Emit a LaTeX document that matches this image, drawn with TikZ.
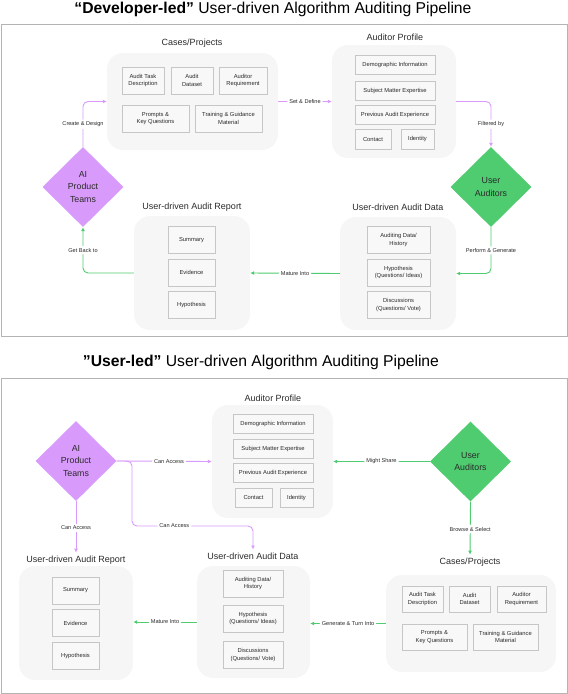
\documentclass[tikz,border=0pt]{standalone}
\usepackage{fontspec}
\setmainfont{Liberation Sans}
\usepackage{tikz}
\usetikzlibrary{shapes,arrows,positioning,calc,arrows.meta}

\definecolor{panelgray}{HTML}{F6F6F6}
\definecolor{boxgray}{HTML}{F8F8F8}
\definecolor{linegray}{HTML}{C6C6C6}
\definecolor{framegray}{HTML}{B4B4B4}
\definecolor{aipurple}{HTML}{D89BFB}
\definecolor{usergreen}{HTML}{4FCB70}
\definecolor{textdark}{HTML}{2A2A2A}

\begin{document}
\begin{tikzpicture}[x=1pt,y=-1pt,
    panel/.style={fill=panelgray, rounded corners=16pt, inner sep=0pt},
    item/.style={draw=linegray, fill=boxgray, line width=0.9pt, align=center, inner sep=0pt,
      font=\fontsize{5.8}{7.5}\selectfont, text=textdark},
    paneltitle/.style={font=\fontsize{9}{11}\selectfont, text=textdark, inner sep=1pt},
    actor/.style={diamond, aspect=1, minimum width=81pt, minimum height=80pt, inner sep=0pt,
      align=center, font=\fontsize{8.8}{12.5}\selectfont, text=textdark},
    purarrow/.style={draw=aipurple, line width=0.9pt, rounded corners=5pt, -{Latex[length=4pt,width=4pt]}},
    grnarrow/.style={draw=usergreen, line width=0.9pt, rounded corners=5pt, -{Latex[length=4pt,width=4pt]}},
    lbl/.style={fill=white, inner sep=2pt, font=\fontsize{5.6}{6.5}\selectfont, text=textdark}
  ]
    \useasboundingbox (0,0) rectangle (568,694);

    % ---------- developer-led ----------
    \node (titleA) at (273,9) {\fontsize{15.7}{18}\selectfont\textbf{“Developer-led”} User-driven Algorithm Auditing Pipeline};
    \draw[framegray, line width=1pt] (1,24) rectangle (567,336);

    \node[panel, minimum width=171pt, minimum height=97pt] (casesA) at (192.5,101.5) {};
    \node[paneltitle] (casesAt) at (192,43) {Cases/Projects};
    \node[item, minimum width=42pt, minimum height=27pt] (atdA) at (143,80.5) {Audit Task\\Description};
    \node[item, minimum width=42pt, minimum height=27pt] (adsA) at (192,80.5) {Audit\\Dataset};
    \node[item, minimum width=48pt, minimum height=27pt] (areqA) at (243,80.5) {Auditor\\Requirement};
    \node[item, minimum width=67pt, minimum height=27pt] (pkqA) at (155.5,118.5) {Prompts \&\\Key Questions};
    \node[item, minimum width=67pt, minimum height=27pt] (tgmA) at (228.5,118.5) {Training \& Guidance\\Material};

    \node[panel, minimum width=124pt, minimum height=113pt] (profA) at (394,101.5) {};
    \node[paneltitle] (profAt) at (395,37) {Auditor Profile};
    \node[item, minimum width=80pt, minimum height=19pt] (demoA) at (395,64.5) {Demographic Information};
    \node[item, minimum width=80pt, minimum height=19pt] (smeA) at (395,90.5) {Subject Matter Expertise};
    \node[item, minimum width=80pt, minimum height=19pt] (paeA) at (395,114.5) {Previous Audit Experience};
    \node[item, minimum width=36pt, minimum height=20pt] (contA) at (373,139) {Contact};
    \node[item, minimum width=33pt, minimum height=20pt] (identA) at (417.5,139) {Identity};

    \node[panel, minimum width=116pt, minimum height=113pt] (dataA) at (398,273.5) {};
    \node[paneltitle] (dataAt) at (398,207) {User-driven Audit Data};
    \node[item, minimum width=63pt, minimum height=27pt] (histA) at (398.5,240) {Auditing Data/\\History};
    \node[item, minimum width=63pt, minimum height=27pt] (hypoA) at (398.5,272.5) {Hypothesis\\(Questions/ Ideas)};
    \node[item, minimum width=63pt, minimum height=27pt] (discA) at (398.5,305) {Discussions\\(Questions/ Vote)};

    \node[panel, minimum width=116pt, minimum height=114pt] (reportA) at (192,273) {};
    \node[paneltitle] (reportAt) at (192,207) {User-driven Audit Report};
    \node[item, minimum width=47pt, minimum height=27pt] (sumA) at (191.5,240) {Summary};
    \node[item, minimum width=47pt, minimum height=27pt] (evidA) at (191.5,272.5) {Evidence};
    \node[item, minimum width=47pt, minimum height=27pt] (hypA) at (191.5,305) {Hypothesis};

    \node[actor, fill=aipurple] (aiA) at (83,187) {AI\\Product\\Teams};
    \node[actor, fill=usergreen] (userA) at (491,187) {User\\Auditors};

    \draw[purarrow] (aiA.north) |- node[lbl, pos=0.25] {Create \& Design} (casesA.west);
    \draw[purarrow] (casesA.east) -- node[lbl] {Set \& Define} (profA.west);
    \draw[purarrow] (profA.east) -| node[lbl, pos=0.75] {Filtered by} (userA.north);
    \draw[grnarrow] (userA.south) |- node[lbl, pos=0.25] {Perform \& Generate} (dataA.east);
    \draw[grnarrow] (dataA.west) -- node[lbl] {Mature Into} (reportA.east);
    \draw[grnarrow] (reportA.west) -| node[lbl, pos=0.75] {Get Back to} (aiA.south);

    % ---------- user-led ----------
    \node (titleB) at (261,362) {\fontsize{15.7}{18}\selectfont\textbf{"User-led"} User-driven Algorithm Auditing Pipeline};
    \draw[framegray, line width=1pt] (1,378) rectangle (567,693);

    \node[panel, minimum width=121pt, minimum height=113pt] (profB) at (272.5,461.5) {};
    \node[paneltitle] (profBt) at (273,398) {Auditor Profile};
    \node[item, minimum width=80pt, minimum height=19pt] (demoB) at (273,423.5) {Demographic Information};
    \node[item, minimum width=80pt, minimum height=19pt] (smeB) at (273,448.5) {Subject Matter Expertise};
    \node[item, minimum width=80pt, minimum height=19pt] (paeB) at (273,472.5) {Previous Audit Experience};
    \node[item, minimum width=37pt, minimum height=19pt] (contB) at (253.5,497.5) {Contact};
    \node[item, minimum width=33pt, minimum height=19pt] (identB) at (296.5,497.5) {Identity};

    \node[panel, minimum width=170pt, minimum height=97pt] (casesB) at (471,623.5) {};
    \node[paneltitle] (casesBt) at (470,562) {Cases/Projects};
    \node[item, minimum width=41pt, minimum height=26pt] (atdB) at (422.5,599) {Audit Task\\Description};
    \node[item, minimum width=41pt, minimum height=26pt] (adsB) at (469.5,599) {Audit\\Dataset};
    \node[item, minimum width=49pt, minimum height=26pt] (areqB) at (521.5,599) {Auditor\\Requirement};
    \node[item, minimum width=65pt, minimum height=26pt] (pkqB) at (434.5,637) {Prompts \&\\Key Questions};
    \node[item, minimum width=65pt, minimum height=26pt] (tgmB) at (505.5,637) {Training \& Guidance\\Material};

    \node[panel, minimum width=113pt, minimum height=112pt] (dataB) at (253.5,622) {};
    \node[paneltitle] (dataBt) at (253,556) {User-driven Audit Data};
    \node[item, minimum width=60pt, minimum height=27pt] (histB) at (253,583.5) {Auditing Data/\\History};
    \node[item, minimum width=60pt, minimum height=27pt] (hypoB) at (253,618.5) {Hypothesis\\(Questions/ Ideas)};
    \node[item, minimum width=60pt, minimum height=27pt] (discB) at (253,655) {Discussions\\(Questions/ Vote)};

    \node[panel, minimum width=114pt, minimum height=114pt] (reportB) at (76,623) {};
    \node[paneltitle] (reportBt) at (76,560) {User-driven Audit Report};
    \node[item, minimum width=47pt, minimum height=27pt] (sumB) at (75.5,590.5) {Summary};
    \node[item, minimum width=47pt, minimum height=27pt] (evidB) at (75.5,623) {Evidence};
    \node[item, minimum width=47pt, minimum height=27pt] (hypB) at (75.5,656) {Hypothesis};

    \node[actor, fill=aipurple] (aiB) at (76,461) {AI\\Product\\Teams};
    \node[actor, fill=usergreen] (userB) at (470.5,461.5) {User\\Auditors};

    \coordinate (bendB) at (132,526);
    \draw[purarrow] (aiB.east) -- node[lbl, pos=0.55] {Can Access} (profB.west);
    \draw[purarrow, shorten >=2pt] (aiB.east) -| (bendB) -- node[lbl, pos=0.35] {Can Access} (bendB -| dataBt) -- (dataBt.north);
    \draw[purarrow, shorten >=2pt] (aiB.south) -- node[lbl] {Can Access} (reportBt.north);
    \draw[grnarrow] (userB.west) -- node[lbl] {Might Share} (profB.east);
    \draw[grnarrow, shorten >=2pt] (userB.south) -- node[lbl] {Browse \& Select} (casesBt.north);
    \draw[grnarrow] (casesB.west) -- node[lbl] {Generate \& Turn Into} (casesB.west -| dataB.east);
    \draw[grnarrow] (dataB.west) -- node[lbl] {Mature Into} (dataB.west -| reportB.east);
\end{tikzpicture}
\end{document}
